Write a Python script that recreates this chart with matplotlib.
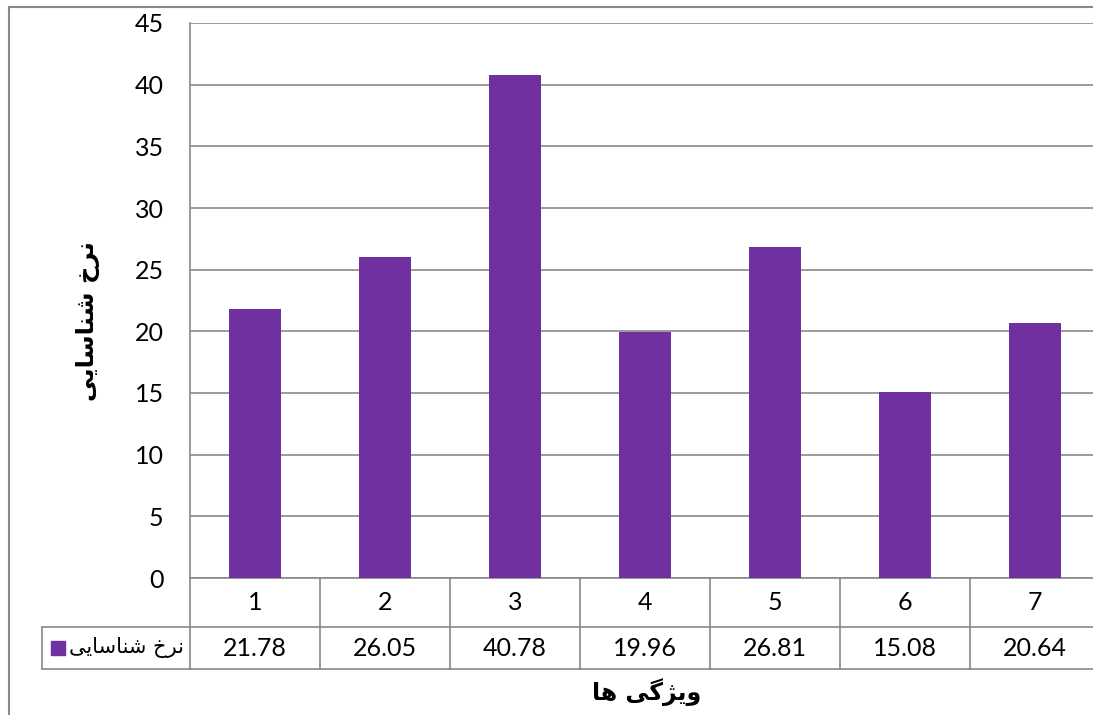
import matplotlib
matplotlib.use('Agg')
import matplotlib.pyplot as plt
from matplotlib.patches import Rectangle
from matplotlib.lines import Line2D
from matplotlib.transforms import blended_transform_factory

# ---- data ----
categories = ['1', '2', '3', '4', '5', '6', '7']
values = [21.78, 26.05, 40.78, 19.96, 26.81, 15.08, 20.64]
value_labels = ['21.78', '26.05', '40.78', '19.96', '26.81', '15.08', '20.64']
yticks = [0, 5, 10, 15, 20, 25, 30, 35, 40, 45]
# Persian text in shaped presentation forms, visual (left-to-right) order
series_name = '\uFEF0\uFEF3\uFE8E\uFEB3\uFE8E\uFEE8\uFEB7 \uFEA5\uFEAE\uFEE7'   # نرخ شناسایی
x_title = '\uFE8E\uFEEB \uFEF0\uFB94\uFB8B\uFEF3\uFEED'                          # ویژگی ها
y_title = series_name

plt.rcParams['font.family'] = ['Lato', 'DejaVu Sans']

W, H = 1093, 715
BAR = '#7030A0'
GRID = '#898989'
FS = 18
fig = plt.figure(figsize=(W / 100, H / 100), dpi=100)
ax = fig.add_axes([190 / W, 1 - 578 / H, 910 / W, 555 / H])

x = list(range(len(categories)))
ax.bar(x, values, width=0.4, color=BAR, zorder=3)
ax.set_xlim(-0.5, len(categories) - 0.5)
ax.set_ylim(0, 45)
ax.set_yticks(yticks)
ax.set_yticklabels([str(t) for t in yticks], fontsize=FS)
ax.tick_params(axis='y', length=0, pad=19)
ax.set_xticks([])
ax.yaxis.grid(True, color=GRID, linewidth=1.2, zorder=0)
ax.set_axisbelow(True)
for s in ['top', 'right']:
    ax.spines[s].set_visible(False)
for s in ['left', 'bottom']:
    ax.spines[s].set_color(GRID)
    ax.spines[s].set_linewidth(1.2)

# ---- data table ----
bt = blended_transform_factory(ax.transData, ax.transAxes)
ah = 555.0
r1 = -49 / ah
r2 = -91 / ah
for b in [i - 0.5 for i in range(len(categories) + 1)]:
    ax.add_line(Line2D([b, b], [0, r2], transform=bt, color=GRID, lw=1.2, clip_on=False))
leg_left = (42 - 190) / 910
ax.add_line(Line2D([leg_left, 1], [r1, r1], transform=ax.transAxes, color=GRID, lw=1.2, clip_on=False))
ax.add_line(Line2D([leg_left, 1], [r2, r2], transform=ax.transAxes, color=GRID, lw=1.2, clip_on=False))
ax.add_line(Line2D([leg_left, leg_left], [r1, r2], transform=ax.transAxes, color=GRID, lw=1.2, clip_on=False))

for i, c in enumerate(categories):
    ax.text(i, r1 / 2, c, transform=bt, ha='center', va='center', fontsize=FS, clip_on=False)
for i, v in enumerate(value_labels):
    ax.text(i, (r1 + r2) / 2, v, transform=bt, ha='center', va='center', fontsize=FS, clip_on=False)

ax.add_patch(Rectangle(((51 - 190) / 910, -(655 - 578) / ah), 14 / 910, 14 / ah,
                       transform=ax.transAxes, color=BAR, clip_on=False))
ax.text((69 - 190) / 910, (r1 + r2) / 2, series_name, transform=ax.transAxes,
        ha='left', va='center', fontsize=15, family='DejaVu Sans', clip_on=False)

# ---- titles ----
fig.text(88 / W, 1 - 321 / H, y_title, rotation=90, ha='center', va='center',
         fontsize=17.5, fontweight='bold', family='DejaVu Sans')
fig.text(647 / W, 1 - 692 / H, x_title, ha='center', va='center',
         fontsize=17, fontweight='bold', family='DejaVu Sans')

# ---- outer chart frame ----
fig.add_artist(Line2D([9 / W, 9 / W], [0, 1 - 7 / H], transform=fig.transFigure, color=GRID, lw=1.5))
fig.add_artist(Line2D([9 / W, 1], [1 - 7 / H, 1 - 7 / H], transform=fig.transFigure, color=GRID, lw=1.5))

fig.savefig('out.png', dpi=100)
